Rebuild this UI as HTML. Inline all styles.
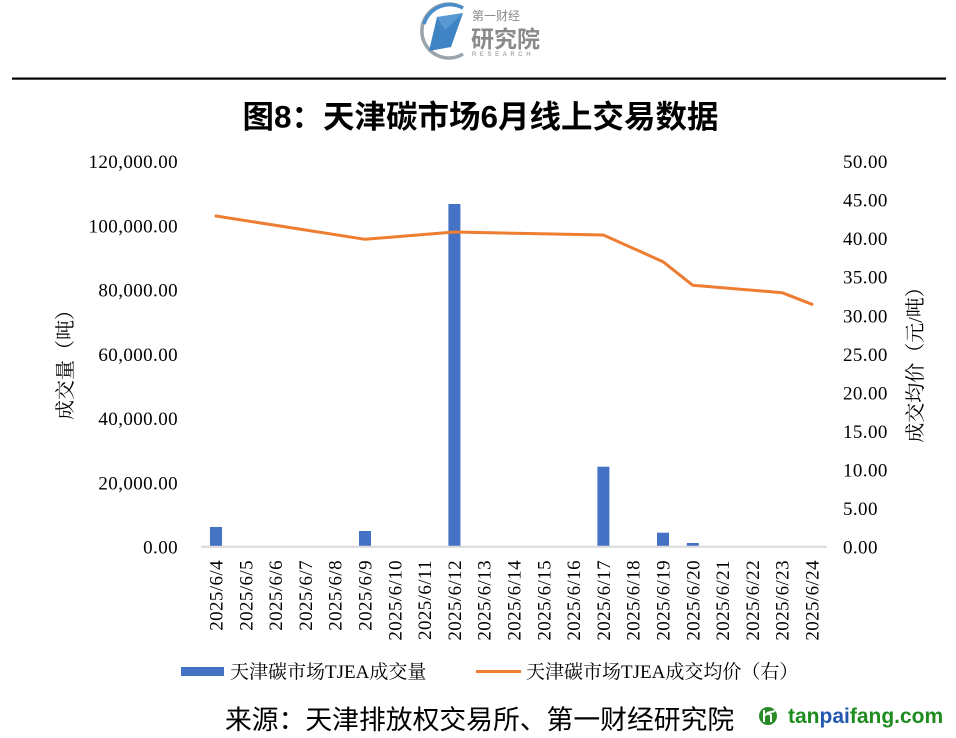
<!DOCTYPE html>
<html>
<head>
<meta charset="utf-8">
<style>
html,body{margin:0;padding:0;background:#fff;}
svg{display:block;}
.tick{font-family:"Liberation Serif","Noto Serif CJK SC",serif;font-size:19px;fill:#000;letter-spacing:0.4px;}
.cjk{font-family:"Liberation Serif","Noto Serif CJK SC",serif;fill:#000;}
</style>
</head>
<body>
<svg width="956" height="738" viewBox="0 0 956 738" xmlns="http://www.w3.org/2000/svg">
<rect width="956" height="738" fill="#fff"/>

<!-- top logo -->
<path d="M463,8 A27,27 0 1 0 463,54" fill="none" stroke="#9aa4ad" stroke-width="3.5"/>
<path d="M463,8 A27,27 0 0 0 424,24" fill="none" stroke="#4a8ec9" stroke-width="3.5"/>
<polygon points="437,17 463,13 451,47 429,51" fill="#3f84c5"/>
<polygon points="437,17 463,13 445,30" fill="#6aa7dc" opacity="0.6"/>
<text x="472" y="20" font-family="'Liberation Sans','Noto Sans CJK SC',sans-serif" font-size="12" fill="#8a8a8a">第一财经</text>
<text x="471" y="47" font-family="'Liberation Sans','Noto Sans CJK SC',sans-serif" font-size="23" font-weight="bold" fill="#8a8a8a">研究院</text>
<text x="472" y="56" font-family="'Liberation Sans',sans-serif" font-size="6" fill="#8a8a8a" letter-spacing="3.6">RESEARCH</text>

<!-- top rule -->
<rect x="12" y="77.5" width="934" height="2.2" fill="#000"/>

<!-- title -->
<text x="480.5" y="127.5" text-anchor="middle" font-family="'Liberation Sans','Noto Sans CJK SC',sans-serif" font-size="31.5" font-weight="bold" fill="#000">图8：天津碳市场6月线上交易数据</text>

<!-- left tick labels -->
<g class="tick" text-anchor="end">
<text x="178" y="168">120,000.00</text>
<text x="178" y="232.3">100,000.00</text>
<text x="178" y="296.6">80,000.00</text>
<text x="178" y="360.9">60,000.00</text>
<text x="178" y="425.1">40,000.00</text>
<text x="178" y="489.4">20,000.00</text>
<text x="178" y="553.7">0.00</text>
</g>

<!-- right tick labels -->
<g class="tick">
<text x="843" y="168">50.00</text>
<text x="843" y="206.6">45.00</text>
<text x="843" y="245.1">40.00</text>
<text x="843" y="283.7">35.00</text>
<text x="843" y="322.3">30.00</text>
<text x="843" y="360.9">25.00</text>
<text x="843" y="399.4">20.00</text>
<text x="843" y="438">15.00</text>
<text x="843" y="476.6">10.00</text>
<text x="843" y="515.1">5.00</text>
<text x="843" y="553.7">0.00</text>
</g>

<!-- axis titles -->
<text class="cjk" font-size="20" transform="translate(72,360) rotate(-90)" text-anchor="middle">成交量（吨）</text>
<text class="cjk" font-size="20" transform="translate(922,360) rotate(-90)" text-anchor="middle">成交均价（元/吨）</text>

<!-- bars -->
<g fill="#4472C4">
<rect x="210" y="527" width="12" height="19.7"/>
<rect x="359" y="531" width="12" height="15.7"/>
<rect x="448.4" y="204" width="12" height="342.7"/>
<rect x="597.4" y="466.7" width="12" height="80"/>
<rect x="657" y="532.7" width="12" height="14"/>
<rect x="686.8" y="543" width="12" height="3.7"/>
</g>

<!-- x axis line -->
<line x1="201" y1="546.7" x2="827" y2="546.7" stroke="#d9d9d9" stroke-width="2"/>

<!-- price line -->
<polyline points="216,216 365,239.3 454.4,232 603.4,235 663,261.7 692.8,285.3 782.2,292.7 812,304.3" fill="none" stroke="#ED7D31" stroke-width="3" stroke-linejoin="round" stroke-linecap="round"/>

<!-- x labels -->
<g class="tick" text-anchor="end">
<text transform="translate(222.5,560) rotate(-90)">2025/6/4</text>
<text transform="translate(252.3,560) rotate(-90)">2025/6/5</text>
<text transform="translate(282.1,560) rotate(-90)">2025/6/6</text>
<text transform="translate(311.9,560) rotate(-90)">2025/6/7</text>
<text transform="translate(341.7,560) rotate(-90)">2025/6/8</text>
<text transform="translate(371.5,560) rotate(-90)">2025/6/9</text>
<text transform="translate(401.3,560) rotate(-90)">2025/6/10</text>
<text transform="translate(431.1,560) rotate(-90)">2025/6/11</text>
<text transform="translate(460.9,560) rotate(-90)">2025/6/12</text>
<text transform="translate(490.7,560) rotate(-90)">2025/6/13</text>
<text transform="translate(520.5,560) rotate(-90)">2025/6/14</text>
<text transform="translate(550.3,560) rotate(-90)">2025/6/15</text>
<text transform="translate(580.1,560) rotate(-90)">2025/6/16</text>
<text transform="translate(609.9,560) rotate(-90)">2025/6/17</text>
<text transform="translate(639.7,560) rotate(-90)">2025/6/18</text>
<text transform="translate(669.5,560) rotate(-90)">2025/6/19</text>
<text transform="translate(699.3,560) rotate(-90)">2025/6/20</text>
<text transform="translate(729.1,560) rotate(-90)">2025/6/21</text>
<text transform="translate(758.9,560) rotate(-90)">2025/6/22</text>
<text transform="translate(788.7,560) rotate(-90)">2025/6/23</text>
<text transform="translate(818.5,560) rotate(-90)">2025/6/24</text>
</g>

<!-- legend -->
<rect x="181" y="667" width="43" height="9" fill="#4472C4"/>
<text class="cjk" x="230" y="678" font-size="19">天津碳市场TJEA成交量</text>
<line x1="476" y1="671.5" x2="521" y2="671.5" stroke="#ED7D31" stroke-width="3"/>
<text class="cjk" x="526" y="678" font-size="19">天津碳市场TJEA成交均价（右）</text>

<!-- footer -->
<text x="225" y="729" font-family="'Liberation Sans','Noto Sans CJK SC',sans-serif" font-size="26.8" fill="#000">来源：天津排放权交易所、第一财经研究院</text>

<!-- tanpaifang logo -->
<circle cx="768" cy="716" r="9" fill="#2a8a2a"/>
<path d="M764,710 L764,722 M764,716 Q768,712 771,715 L771,722 M767,713 L775,711" stroke="#fff" stroke-width="2" fill="none"/>
<text x="788" y="723" font-family="'Liberation Sans',sans-serif" font-size="21" font-weight="bold" fill="#1e8c1e">tan<tspan fill="#2358b0">pai</tspan>fang.com</text>
</svg>
</body>
</html>
